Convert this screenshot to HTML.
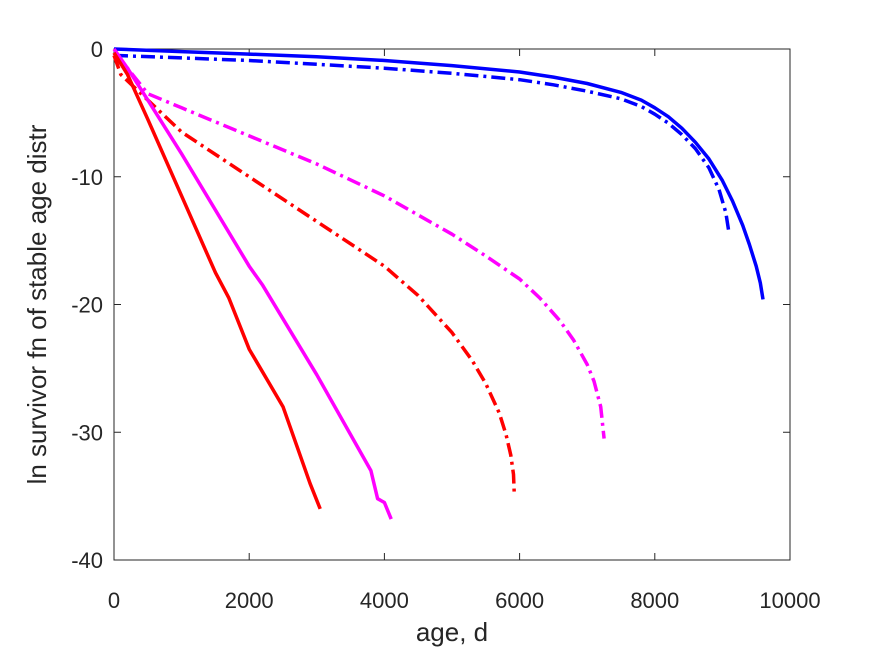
<!DOCTYPE html>
<html><head><meta charset="utf-8"><style>body{margin:0;background:#fff}svg{display:block;font-family:"Liberation Sans",sans-serif}</style></head>
<body>
<svg id="c" width="875" height="656">
<rect width="875" height="656" fill="#fff"/>
</svg>
<script>
const xTicks=[0,2000,4000,6000,8000,10000];
const yTicks=[0,-10,-20,-30,-40];
const blueSolidX=[0,1000,2000,3000,4000,5000,6000,6500,7000,7500,7800,8000,8200,8400,8600,8800,9000,9150,9300,9400,9500,9560,9600];
const blueSolidY=[0,-0.2,-0.4,-0.6,-0.9,-1.3,-1.8,-2.2,-2.7,-3.4,-4,-4.6,-5.3,-6.2,-7.3,-8.6,-10.3,-11.9,-13.8,-15.3,-17,-18.3,-19.6];
const blueDashX=[0,1000,2000,3000,4000,5000,6000,6500,7000,7500,7800,8000,8200,8400,8600,8800,8950,9050,9100];
const blueDashY=[-0.5,-0.7,-0.9,-1.2,-1.5,-1.9,-2.4,-2.8,-3.3,-3.9,-4.5,-5.1,-5.8,-6.7,-7.8,-9.3,-11,-12.8,-14.5];
const magDashX=[0,200,500,1000,2000,3000,4000,5000,5500,6000,6300,6600,6800,7000,7100,7200,7250];
const magDashY=[-0.3,-1.5,-3.5,-4.6,-6.8,-9,-11.5,-14.5,-16.2,-18,-19.5,-21.3,-22.8,-24.7,-26,-28,-30.5];
const redDashX=[0,100,300,1000,2000,3000,4000,4500,5000,5300,5500,5700,5800,5870,5910,5920];
const redDashY=[-0.5,-2,-3,-6.5,-10,-13.5,-17,-19.3,-22.2,-24.4,-26.2,-28.5,-30.2,-31.8,-33.3,-34.7];
const magSolidX=[0,200,500,1000,2000,2200,3000,3800,3900,4000,4100];
const magSolidY=[0,-1.5,-4,-8.2,-17,-18.5,-25.5,-33,-35.2,-35.5,-36.8];
const redSolidX=[0,200,500,1000,1500,1700,2000,2500,2900,3050];
const redSolidY=[-0.3,-2,-5.5,-11.5,-17.5,-19.5,-23.5,-28,-34,-36];
const L=114,R=790,T=49,B=560;
const sx=v=>L+(v-0)/10000*(R-L), sy=v=>T+(0-v)/40*(B-T);
const svg=document.getElementById('c'),NS='http://www.w3.org/2000/svg';
function mk(t,a,p){const e=document.createElementNS(NS,t);for(const k in a)e.setAttribute(k,a[k]);(p||svg).appendChild(e);return e;}
const box=mk('rect',{x:L,y:T,width:R-L,height:B-T,fill:'none',stroke:'#262626','stroke-width':1});


xTicks.forEach(v=>{const x=sx(v);
 mk('line',{x1:x,x2:x,y1:B,y2:B-7,stroke:'#262626'});mk('line',{x1:x,x2:x,y1:T,y2:T+7,stroke:'#262626'});
 const t=mk('text',{x:x,y:B+48,'text-anchor':'middle','font-size':22,fill:'#262626'});t.textContent=v;
 
 });
yTicks.forEach(v=>{const y=sy(v);
 mk('line',{x1:L,x2:L+7,y1:y,y2:y,stroke:'#262626'});mk('line',{x1:R,x2:R-7,y1:y,y2:y,stroke:'#262626'});
 const t=mk('text',{x:L-11,y:y+8,'text-anchor':'end','font-size':22,fill:'#262626'});t.textContent=v;
 
 });
function series(xs,ys,col,dash,name){const d=xs.map((x,i)=>(i?'L':'M')+sx(x).toFixed(1)+','+sy(ys[i]).toFixed(1)).join('');
 const p=mk('path',{d:d,fill:'none',stroke:col,'stroke-width':3.5,'stroke-linejoin':'round'});
 if(dash)p.setAttribute('stroke-dasharray','14,5,3,5');
 
 }
series(blueSolidX,blueSolidY,'#0000ff',false,'blue-solid-line');
series(blueDashX,blueDashY,'#0000ff',true,'blue-dashdot-line');
series(magDashX,magDashY,'#ff00ff',true,'magenta-dashdot-line');
series(redDashX,redDashY,'#ff0000',true,'red-dashdot-line');
series(magSolidX,magSolidY,'#ff00ff',false,'magenta-solid-line');
series(redSolidX,redSolidY,'#ff0000',false,'red-solid-line');
const xt=mk('text',{x:(L+R)/2,y:641,'text-anchor':'middle','font-size':26,fill:'#262626'});xt.textContent='age, d';


const yt=mk('text',{x:0,y:0,transform:'translate(46,'+((T+B)/2)+') rotate(-90)','text-anchor':'middle','font-size':26,fill:'#262626'});yt.textContent='ln survivor fn of stable age distr';


</script>
</body></html>
